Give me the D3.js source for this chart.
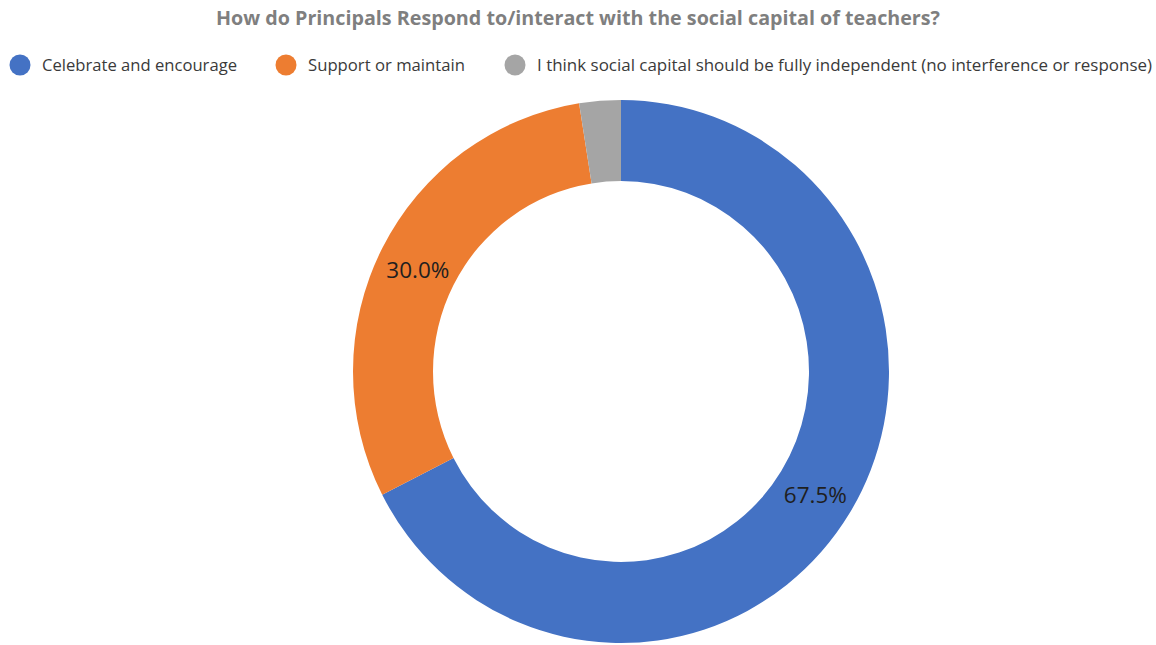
<!DOCTYPE html>
<html>
<head>
<meta charset="utf-8">
<script src="https://cdn.jsdelivr.net/npm/d3@7"></script>
<style>
  html, body { margin: 0; padding: 0; background: #fff; }
  svg { display: block; }
</style>
</head>
<body>
<svg id="chart" width="1156" height="645"></svg>
<script>
const title = "How do Principals Respond to/interact with the social capital of teachers?";
const categories = [
  "Celebrate and encourage",
  "Support or maintain",
  "I think social capital should be fully independent (no interference or response)"
];
const values = [67.5, 30.0, 2.5];
const colors = ["#4472c4", "#ed7d31", "#a5a5a5"];

const svg = d3.select("#chart");
const font = "'Open Sans', 'Noto Sans', sans-serif";

// Title
svg.append("text")
  .attr("x", 578).attr("y", 25)
  .attr("text-anchor", "middle")
  .attr("font-family", font)
  .attr("font-size", 19.5)
  .attr("font-weight", 700)
  .attr("fill", "#7f7f7f")
  .attr("textLength", 724)
  .attr("lengthAdjust", "spacingAndGlyphs")
  .text(title);

// Legend: marker x, label width
const legendX = [20, 286, 515];
const legendW = [195, 157, 615];
const legend = svg.append("g");
categories.forEach((c, i) => {
  const g = legend.append("g").attr("transform", `translate(${legendX[i]},65)`);
  g.append("circle").attr("r", 10.5).attr("fill", colors[i]);
  g.append("text")
    .attr("x", 22).attr("y", 0)
    .attr("dy", "0.36em")
    .attr("font-family", font)
    .attr("font-size", 15.5)
    .attr("font-weight", 500)
    .attr("fill", "#3a3a3a")
    .attr("textLength", legendW[i])
    .attr("lengthAdjust", "spacingAndGlyphs")
    .text(c);
});

// Donut (ring is drawn slightly taller than wide)
const cx = 621, cy = 371.5, outerR = 268, innerR = 188, stretchY = 1.013;
const pie = d3.pie().sort(null).value(d => d);
const arc = d3.arc().innerRadius(innerR).outerRadius(outerR);
const arcs = pie(values);

const ring = svg.append("g").attr("transform", `translate(${cx},${cy}) scale(1,${stretchY})`);
ring.selectAll("path")
  .data(arcs)
  .join("path")
  .attr("d", arc)
  .attr("fill", (d, i) => colors[i]);

// Value labels at slice centroids (smallest slice unlabeled)
const fmt = d3.format(".1f");
svg.append("g").attr("transform", `translate(${cx},${cy})`)
  .selectAll("text.value")
  .data(arcs.filter(d => d.data >= 5))
  .join("text")
  .attr("class", "value")
  .attr("transform", d => {
    const [x, y] = arc.centroid(d);
    return `translate(${x},${y * stretchY + 3})`;
  })
  .attr("text-anchor", "middle")
  .attr("dy", "0.35em")
  .attr("font-family", font)
  .attr("font-size", 22.5)
  .attr("fill", "#1f1f1f")
  .text(d => fmt(d.data) + "%");
</script>
</body>
</html>
